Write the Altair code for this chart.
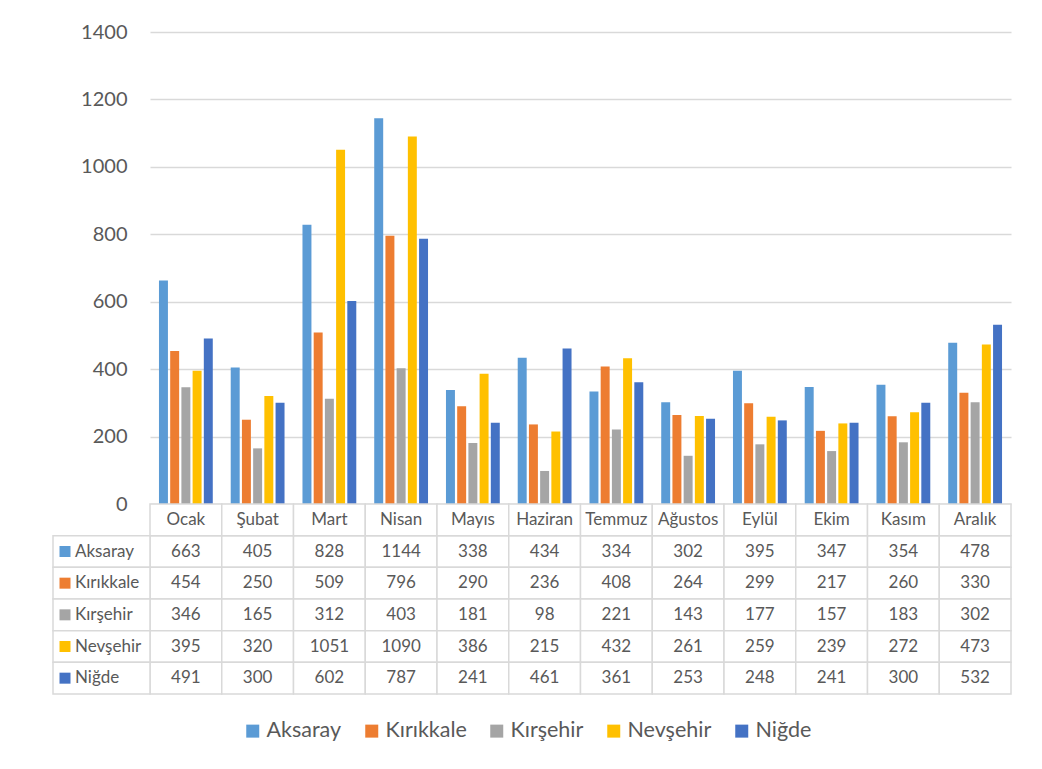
import altair as alt
import pandas as pd

months = ["Ocak", "Şubat", "Mart", "Nisan", "Mayıs", "Haziran", "Temmuz",
          "Ağustos", "Eylül", "Ekim", "Kasım", "Aralık"]
series = ["Aksaray", "Kırıkkale", "Kırşehir", "Nevşehir", "Niğde"]
colors = ["#5B9BD5", "#ED7D31", "#A5A5A5", "#FFC000", "#4472C4"]

aksaray = [663, 405, 828, 1144, 338, 434, 334, 302, 395, 347, 354, 478]
kirikkale = [454, 250, 509, 796, 290, 236, 408, 264, 299, 217, 260, 330]
kirsehir = [346, 165, 312, 403, 181, 98, 221, 143, 177, 157, 183, 302]
nevsehir = [395, 320, 1051, 1090, 386, 215, 432, 261, 259, 239, 272, 473]
nigde = [491, 300, 602, 787, 241, 461, 361, 253, 248, 241, 300, 532]

y_ticks = [0, 200, 400, 600, 800, 1000, 1200, 1400]

values = [aksaray, kirikkale, kirsehir, nevsehir, nigde]
rows = []
for s, vals in zip(series, values):
    for m, v in zip(months, vals):
        rows.append({"series": s, "month": m, "value": v, "label": str(v)})
df = pd.DataFrame(rows)

HDR = "hdr"
row_order = [HDR] + series
hdr_df = pd.DataFrame({"series": HDR, "month": months, "label": months})
cells_df = pd.concat([df[["series", "month", "label"]], hdr_df], ignore_index=True)
side_df = pd.DataFrame({"series": series})

FONT = "Lato"
TXT = "#595959"
GRID = "#D9D9D9"
W = 861

color_scale = alt.Scale(domain=series, range=colors)

bars = alt.Chart(df).mark_bar().encode(
    x=alt.X("month:N", sort=months, axis=None,
            scale=alt.Scale(paddingInner=0.25, paddingOuter=0.125)),
    xOffset=alt.XOffset("series:N", sort=series, scale=alt.Scale(paddingInner=0.2)),
    y=alt.Y("value:Q", title=None,
            scale=alt.Scale(domain=[0, 1400], nice=False),
            axis=alt.Axis(values=y_ticks, format="d", domain=False, ticks=False,
                          labelFontSize=20, labelColor=TXT, labelFont=FONT,
                          labelPadding=23, gridColor=GRID, gridWidth=1.3)),
    color=alt.Color("series:N", scale=color_scale, legend=None),
).properties(width=W, height=472)

xs = alt.X("month:N", sort=months, axis=None,
           scale=alt.Scale(paddingInner=0, paddingOuter=0))
ys = alt.Y("series:N", sort=row_order, axis=None,
           scale=alt.Scale(domain=row_order, paddingInner=0, paddingOuter=0))

cells = alt.Chart(cells_df).mark_rect(fill="white", stroke=GRID, strokeWidth=1.5).encode(
    x=xs, y=ys)
cell_text = alt.Chart(cells_df).mark_text(font=FONT, fontSize=17, color=TXT).encode(
    x=xs, y=ys, text="label:N")

side_cells = alt.Chart(side_df).mark_rect(fill="white", stroke=GRID, strokeWidth=1.5).encode(
    x=alt.value(-97), x2=alt.value(0), y=ys)
side_sq = alt.Chart(side_df).mark_point(shape="square", filled=True, size=121, opacity=1).encode(
    x=alt.value(-85), y=ys,
    color=alt.Color("series:N", scale=color_scale,
                    legend=alt.Legend(orient="none", legendX=92, legendY=216,
                                      direction="horizontal", title=None,
                                      symbolType="square", symbolSize=169,
                                      symbolStrokeWidth=0, symbolOpacity=1,
                                      labelFontSize=21.5, labelFont=FONT,
                                      labelColor=TXT, columnPadding=19,
                                      labelOffset=3)))
side_text = alt.Chart(side_df).mark_text(font=FONT, fontSize=17, color=TXT, align="left").encode(
    x=alt.value(-75), y=ys, text="series:N")

table = alt.layer(cells, cell_text, side_cells, side_sq, side_text).properties(width=W, height=190)

chart = alt.vconcat(bars, table, spacing=0, bounds="flush").resolve_scale(
    color="independent", x="independent"
).properties(
    padding={"left": 44, "top": 14, "right": 5, "bottom": 5}
).configure_view(strokeOpacity=0)

chart.save("out.html", embed_options={"renderer": "svg", "actions": False})
